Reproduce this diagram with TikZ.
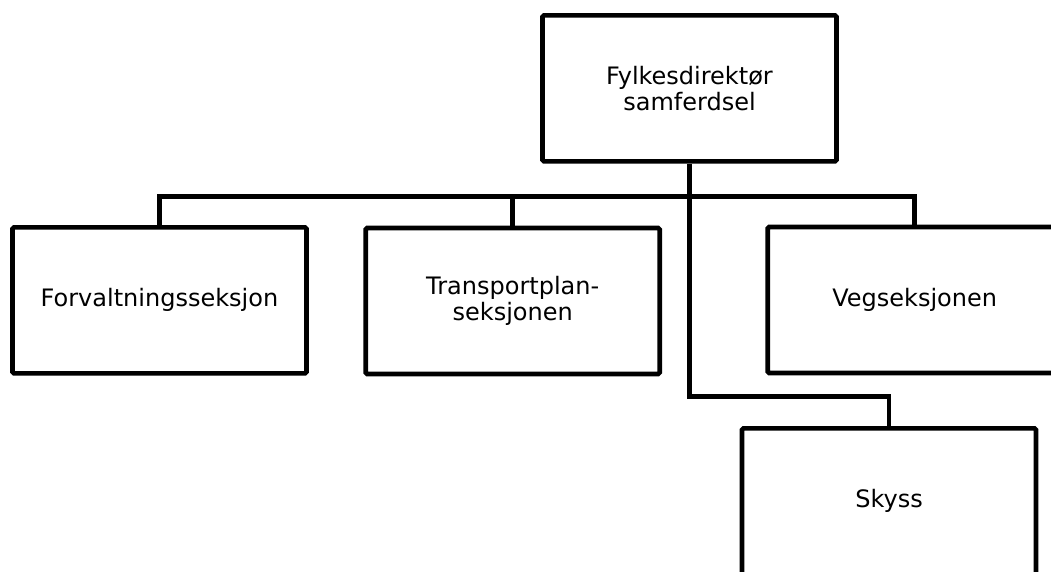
\documentclass[tikz,border=0pt]{standalone}
\usepackage{fontspec}
\setmainfont{DejaVu Sans}
\begin{document}
\begin{tikzpicture}[x=1pt,y=-1pt,
  orgbox/.style={draw=black, line width=4.6pt, rounded corners=1.5pt, fill=white,
    minimum width=294pt, minimum height=146pt, inner sep=0pt, align=center,
    font=\fontsize{24pt}{26pt}\selectfont},
  link/.style={draw=black, line width=4.6pt, line join=miter}]
\clip (0,0) rectangle (1051,571);
\fill[white] (0,0) rectangle (1051,571);
\node[orgbox] (top) at (689.5,88.3) {Fylkesdirektør\\samferdsel};
\node[orgbox] (forv) at (159.5,300.3) {Forvaltningsseksjon};
\node[orgbox] (trans) at (512.7,301) {Transportplan-\\seksjonen};
\node[orgbox] (veg) at (914.7,300) {Vegseksjonen};
\node[orgbox] (sky) at (889,501.3) {Skyss};
\coordinate (bus) at (689.5,196.5);
\coordinate (elb) at (689.5,396.7);
\draw[link] (forv) |- (bus) -| (veg);
\draw[link] (trans) |- (bus);
\draw[link] (top) -- (elb) -| (sky);
\end{tikzpicture}
\end{document}
